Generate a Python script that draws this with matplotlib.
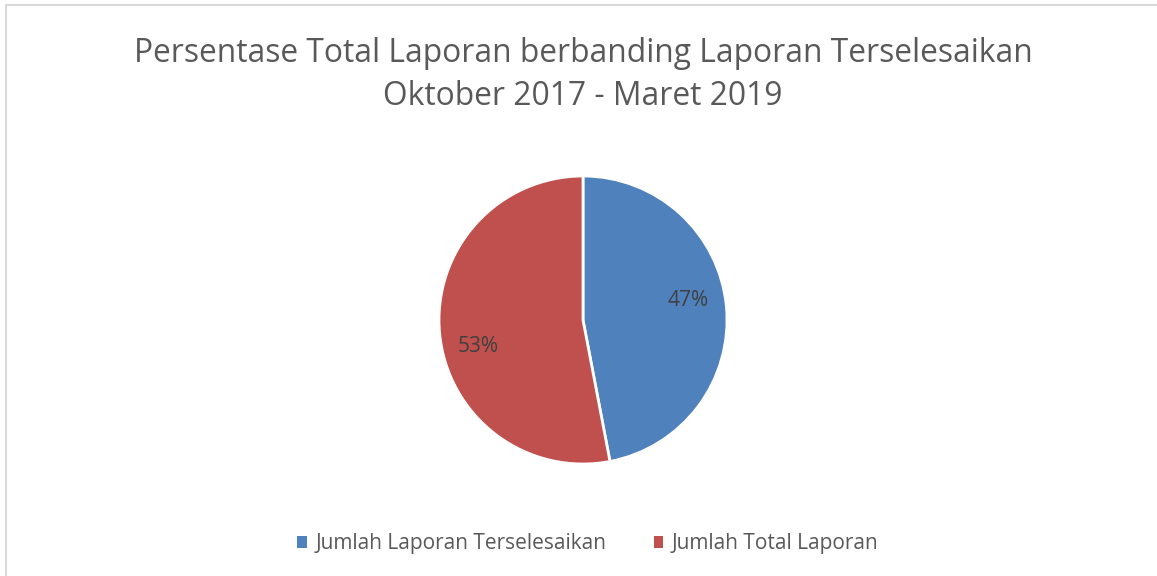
import matplotlib.pyplot as plt
from matplotlib.patches import Rectangle, Patch

labels = ['Jumlah Laporan Terselesaikan', 'Jumlah Total Laporan']
values = [47, 53]
colors = ['#4F81BD', '#C0504D']
title = 'Persentase Total Laporan berbanding Laporan Terselesaikan\nOktober 2017 - Maret 2019'

plt.rcParams['font.family'] = ['Open Sans', 'DejaVu Sans']

W, H = 1157, 576
fig = plt.figure(figsize=(W / 100, H / 100), dpi=100)

# chart border (only top and left visible)
fig.patches.append(Rectangle((6 / W, -0.1), 1.2, (H - 5) / H + 0.1, transform=fig.transFigure,
                             fill=False, edgecolor='#D9D9D9', linewidth=1.5))

fig.text(583 / W, 1 - 75 / H, title, ha='center', va='center', fontsize=22.9,
         color='#595959', linespacing=1.42)

r = 144
cx, cy = 583, 320
ax = fig.add_axes([(cx - r) / W, 1 - (cy + r) / H, 2 * r / W, 2 * r / H])
wedges, texts = ax.pie(values, colors=colors, startangle=90, counterclock=False,
                       wedgeprops=dict(edgecolor='white', linewidth=2))
ax.set_aspect('equal')
ax.set_xlim(-1, 1)
ax.set_ylim(-1, 1)

for v, (x, y) in zip(values, [(688, 300), (478, 347)]):
    fig.text(x / W, 1 - y / H, f'{v}%', ha='center', va='center', fontsize=15, color='#404040')

handles = [Patch(facecolor=c, edgecolor='none') for c in colors]
fig.legend(handles, labels, loc='center', bbox_to_anchor=(588 / W, 1 - 544 / H), ncol=2,
           frameon=False, fontsize=15, labelcolor='#595959', handlelength=0.45, handleheight=0.45,
           handletextpad=0.4, columnspacing=2.3)

fig.savefig('out.png', dpi=100)
